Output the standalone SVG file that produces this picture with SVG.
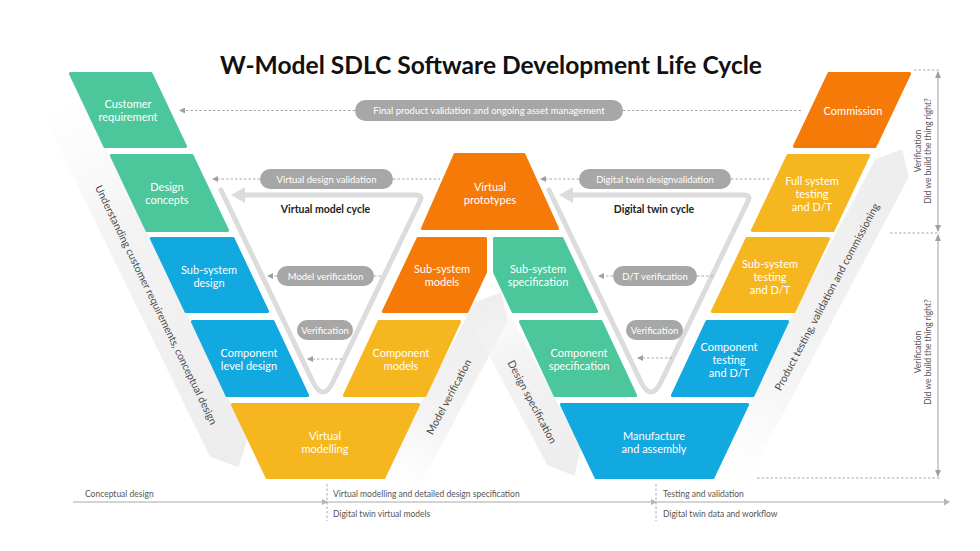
<svg xmlns="http://www.w3.org/2000/svg" width="980" height="551" viewBox="0 0 980 551">
<style>
text{font-family:Lato,"Liberation Sans",Arial,sans-serif}
.nt{fill:#fff;font-size:11px;text-anchor:middle}
.g{fill:#4cc69b;stroke:#4cc69b}
.b{fill:#12a8e0;stroke:#12a8e0}
.o{fill:#f57a08;stroke:#f57a08}
.y{fill:#f6b620;stroke:#f6b620}
.sh{stroke-width:3;stroke-linejoin:round}
.pill{fill:#a7a7a7}
.pt{fill:#fff;font-size:9.5px;text-anchor:middle}
.dash{fill:none;stroke:#a9a9a9;stroke-width:1;stroke-dasharray:2.5 2}
.cyc{fill:none;stroke:#dcdcdc;stroke-width:5;stroke-linecap:round;stroke-linejoin:round}
.band{fill:url(#bandG)}
.bt{fill:#4a4a4a;font-size:10.5px;text-anchor:middle}
.ct{fill:#222;font-size:10.5px;font-weight:700;text-anchor:middle}
.small{fill:#555;font-size:8.5px}
.vt{fill:#555;font-size:8.5px;text-anchor:middle}
</style>
<defs>
<linearGradient id="bandG" x1="0" y1="0" x2="1" y2="0">
<stop offset="0" stop-color="#f6f6f6" stop-opacity="0"/>
<stop offset="0.35" stop-color="#f3f3f3" stop-opacity="1"/>
<stop offset="1" stop-color="#ededed" stop-opacity="1"/>
</linearGradient>
<marker id="ah" markerWidth="6" markerHeight="6" refX="5" refY="3" orient="auto" markerUnits="userSpaceOnUse">
<path d="M0,0 L6,3 L0,6 z" fill="#a0a0a0"/>
</marker>
<marker id="ah2" markerWidth="7" markerHeight="7" refX="6" refY="3.5" orient="auto-start-reverse" markerUnits="userSpaceOnUse">
<path d="M0,0.5 L7,3.5 L0,6.5 z" fill="#a0a0a0"/>
</marker>
</defs>
<rect width="980" height="551" fill="#fff"/>

<text x="491" y="74" font-size="24" font-weight="700" fill="#111" text-anchor="middle" textLength="542" lengthAdjust="spacingAndGlyphs">W-Model SDLC Software Development Life Cycle</text>

<!-- bands -->
<g id="band-understanding" transform="translate(156,305) rotate(64)">
<polygon class="band" points="-222,-24 160,-24 182,-3 160,18 -222,18"/>
<text class="bt" x="0" y="3.5">Understanding customer requirements, conceptual design</text>
</g>
<g id="band-model-verification" transform="translate(449,397) rotate(-62)">
<polygon class="band" points="-100,-22 95,-22 117,-3 95,16 -100,16"/>
<text class="bt" x="0" y="3.5">Model verification</text>
</g>
<g id="band-design-specification" transform="translate(532,402) rotate(62)">
<polygon class="band" points="-115,-22 63,-22 85,-3 63,16 -115,16"/>
<text class="bt" x="0" y="3.5">Design specification</text>
</g>
<g id="band-product-testing" transform="translate(827,297) rotate(-62)">
<polygon class="band" points="-205,-22 144,-22 166,-3 144,16 -205,16"/>
<text class="bt" x="0" y="3.5">Product testing, validation and commissioning</text>
</g>

<!-- cycles -->
<g id="virtual-model-cycle">
<path class="cyc" d="M221,190 L313,382 Q323,402 333,382 L420,201 Q423,195 416,195 L244,195"/>
<polygon points="231,195 245,187 245,203" fill="#dcdcdc"/>
<text class="ct" x="325.5" y="212.5">Virtual model cycle</text>
</g>
<g id="digital-twin-cycle">
<path class="cyc" d="M549,190 L641,382 Q651,402 661,382 L748,201 Q751,195 744,195 L572,195"/>
<polygon points="559,195 573,187 573,203" fill="#dcdcdc"/>
<text class="ct" x="654" y="212.5">Digital twin cycle</text>
</g>

<!-- left arm -->
<g id="customer-requirement">
<polygon class="g sh" points="70.4,73.5 151,73.5 185.6,146.5 105,146.5"/>
<text class="nt" x="128" y="107.5">Customer</text><text class="nt" x="128" y="121">requirement</text>
</g>
<g id="design-concepts">
<polygon class="g sh" points="111.4,155.5 192,155.5 227.6,230.5 147,230.5"/>
<text class="nt" x="167" y="190.5">Design</text><text class="nt" x="167" y="204">concepts</text>
</g>
<g id="subsystem-design">
<polygon class="b sh" points="151.4,238.5 233,238.5 267.6,311.5 186,311.5"/>
<text class="nt" x="209" y="273.5">Sub-system</text><text class="nt" x="209" y="287">design</text>
</g>
<g id="component-level-design">
<polygon class="b sh" points="192.4,321.5 273,321.5 307.6,395.5 227,395.5"/>
<text class="nt" x="249" y="356.5">Component</text><text class="nt" x="249" y="370">level design</text>
</g>
<g id="virtual-modelling">
<polygon class="y sh" points="232.4,404.5 418.6,404.5 384,477.5 267,477.5"/>
<text class="nt" x="325" y="439.5">Virtual</text><text class="nt" x="325" y="453">modelling</text>
</g>

<!-- middle -->
<g id="component-models">
<polygon class="y sh" points="379,321.5 459.6,321.5 425,395.5 344.4,395.5"/>
<text class="nt" x="401" y="356.5">Component</text><text class="nt" x="401" y="370">models</text>
</g>
<g id="subsystem-models">
<polygon class="o sh" points="418,238.5 485.5,238.5 485.5,272 467,311.5 383.4,311.5"/>
<text class="nt" x="442" y="272.5">Sub-system</text><text class="nt" x="442" y="286">models</text>
</g>
<g id="virtual-prototypes">
<polygon class="o sh" points="455,154.5 524,154.5 557.6,228.5 422.4,228.5"/>
<text class="nt" x="490" y="190.5">Virtual</text><text class="nt" x="490" y="204">prototypes</text>
</g>
<g id="subsystem-specification">
<polygon class="g sh" points="562,238.5 494.5,238.5 494.5,272 513,311.5 596.6,311.5"/>
<text class="nt" x="538" y="272.5">Sub-system</text><text class="nt" x="538" y="286">specification</text>
</g>
<g id="component-specification">
<polygon class="g sh" points="601,321.5 520.4,321.5 555,395.5 635.6,395.5"/>
<text class="nt" x="579" y="356.5">Component</text><text class="nt" x="579" y="370">specification</text>
</g>
<g id="manufacture-assembly">
<polygon class="b sh" points="747.6,404.5 561.4,404.5 596,477.5 713,477.5"/>
<text class="nt" x="654" y="439.5">Manufacture</text><text class="nt" x="654" y="453">and assembly</text>
</g>

<!-- right arm -->
<g id="component-testing">
<polygon class="b sh" points="787.6,321.5 707,321.5 672.4,395.5 753,395.5"/>
<text class="nt" x="729" y="350.5">Component</text><text class="nt" x="729" y="363.5">testing</text><text class="nt" x="729" y="376.5">and D/T</text>
</g>
<g id="subsystem-testing">
<polygon class="y sh" points="828.6,238.5 747,238.5 712.4,311.5 794,311.5"/>
<text class="nt" x="770" y="267.5">Sub-system</text><text class="nt" x="770" y="280.5">testing</text><text class="nt" x="770" y="293.5">and D/T</text>
</g>
<g id="full-system-testing">
<polygon class="y sh" points="868.6,155.5 788,155.5 752.4,230.5 833,230.5"/>
<text class="nt" x="812" y="184.5">Full system</text><text class="nt" x="812" y="197.5">testing</text><text class="nt" x="812" y="210.5">and D/T</text>
</g>
<g id="commission">
<polygon class="o sh" points="909.6,73.5 829,73.5 794.4,146.5 875,146.5"/>
<text class="nt" x="853" y="114.5">Commission</text>
</g>

<!-- connectors -->
<g id="connectors">
<path class="dash" d="M355,110.5 H180" marker-end="url(#ah)"/>
<path class="dash" d="M623,110.5 H803"/>
<path class="dash" d="M260,179 H213" marker-end="url(#ah)"/>
<path class="dash" d="M393,179 H440"/>
<path class="dash" d="M277,276 H268" marker-end="url(#ah)"/>
<path class="dash" d="M374,276 H383"/>
<path class="dash" d="M342,359 H308" marker-end="url(#ah)"/>
<path class="dash" d="M579,179 H541" marker-end="url(#ah)"/>
<path class="dash" d="M731,179 H770"/>
<path class="dash" d="M613,276 H599" marker-end="url(#ah)"/>
<path class="dash" d="M697,276 H713"/>
<path class="dash" d="M672,358 H638" marker-end="url(#ah)"/>
</g>

<!-- pills -->
<g id="pill-final">
<rect class="pill" x="355" y="100" width="268" height="21" rx="10.5"/>
<text class="pt" x="489" y="114">Final product validation and ongoing asset management</text>
</g>
<g id="pill-virtual-design-validation">
<rect class="pill" x="260" y="169" width="133" height="20" rx="10"/>
<text class="pt" x="326.5" y="182.5">Virtual design validation</text>
</g>
<g id="pill-model-verification">
<rect class="pill" x="277" y="266" width="97" height="20" rx="10"/>
<text class="pt" x="325.5" y="279.5">Model verification</text>
</g>
<g id="pill-verification-left">
<rect class="pill" x="297" y="320" width="56" height="20" rx="10"/>
<text class="pt" x="325" y="333.5">Verification</text>
</g>
<g id="pill-dt-design-validation">
<rect class="pill" x="579" y="169" width="152" height="20" rx="10"/>
<text class="pt" x="655" y="182.5">Digital twin designvalidation</text>
</g>
<g id="pill-dt-verification">
<rect class="pill" x="613" y="266" width="84" height="20" rx="10"/>
<text class="pt" x="655" y="279.5">D/T verification</text>
</g>
<g id="pill-verification-right">
<rect class="pill" x="626" y="320" width="57" height="20" rx="10"/>
<text class="pt" x="654.5" y="333.5">Verification</text>
</g>

<!-- right dimension -->
<g id="verification-dims">
<path class="dash" d="M914,70 H940"/>
<path class="dash" d="M890,233 H940"/>
<path class="dash" d="M757,478 H940"/>
<path d="M938,72 V231" stroke="#a0a0a0" stroke-width="1" fill="none" marker-start="url(#ah2)" marker-end="url(#ah2)"/>
<path d="M938,235 V476" stroke="#a0a0a0" stroke-width="1" fill="none" marker-start="url(#ah2)" marker-end="url(#ah2)"/>
<g transform="translate(921,151) rotate(-90)">
<text class="vt" x="0" y="0">Verification</text>
<text class="vt" x="0" y="10">Did we build the thing right?</text>
</g>
<g transform="translate(921,352) rotate(-90)">
<text class="vt" x="0" y="0">Verification</text>
<text class="vt" x="0" y="10">Did we build the thing right?</text>
</g>
</g>

<!-- timeline -->
<g id="timeline">
<path d="M73,502 H944" stroke="#c6c6c6" stroke-width="1.5" fill="none"/>
<polygon points="944,498.5 950,502 944,505.5" fill="#b5b5b5"/>
<polygon points="322,499 328,502 322,505" fill="#b5b5b5"/>
<polygon points="651,499 657,502 651,505" fill="#b5b5b5"/>
<path class="dash" d="M327,484 V521"/>
<path class="dash" d="M656,484 V521"/>
<text class="small" x="85" y="496.5">Conceptual design</text>
<text class="small" x="333" y="496.5">Virtual modelling and detailed design specification</text>
<text class="small" x="663" y="496.5">Testing and validation</text>
<text class="small" x="333" y="516.5">Digital twin virtual models</text>
<text class="small" x="663" y="516.5">Digital twin data and workflow</text>
</g>
</svg>
